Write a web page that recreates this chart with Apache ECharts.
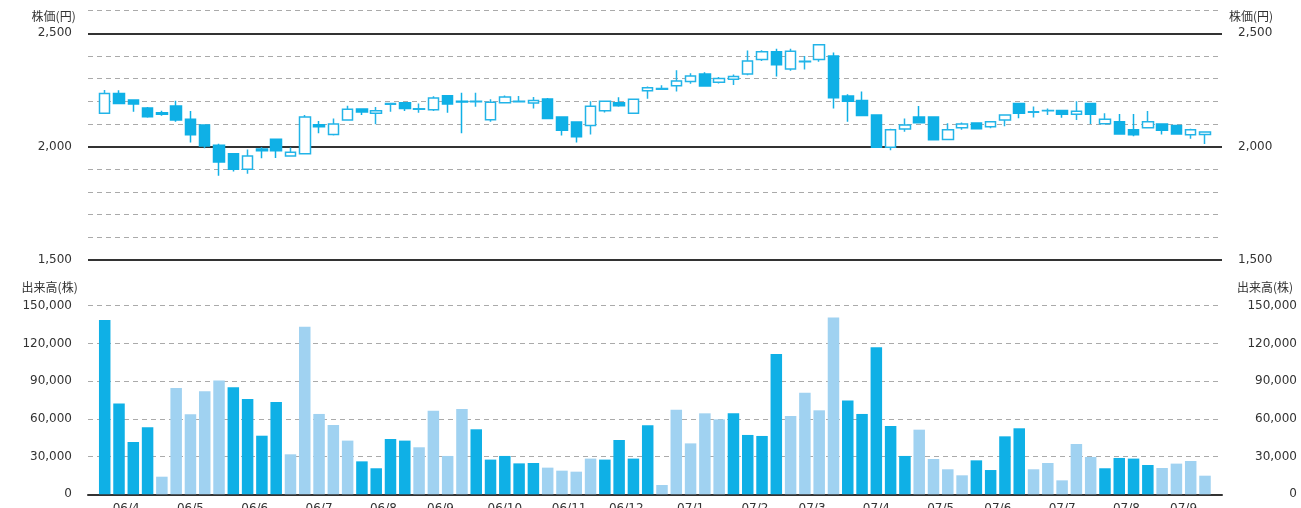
<!DOCTYPE html>
<html>
<head>
    <meta charset="utf-8">
    <title>株価チャート</title>
    <script src="https://cdn.jsdelivr.net/npm/echarts@6/dist/echarts.min.js"></script>
    <style>
        html, body { margin: 0; padding: 0; background: #ffffff; }
        #chart { width: 1301px; height: 508px; }
    </style>
</head>
<body>
<div id="chart"></div>
<script>
    // 月ラベルと各月の週数
    var monthLabels = ['06/4', '06/5', '06/6', '06/7', '06/8', '06/9', '06/10', '06/11', '06/12',
        '07/1', '07/2', '07/3', '07/4', '07/5', '07/6', '07/7', '07/8', '07/9'];
    var weeksPerMonth = [4, 5, 4, 5, 4, 4, 5, 4, 4, 5, 4, 4, 5, 4, 4, 5, 4, 4];

    // 週足 (始値, 終値, 安値, 高値)
    var openPrices = [2147, 2235, 2206, 2171, 2150, 2179, 2121, 2096, 2006, 1969, 1900, 1990, 2033, 1959, 1969, 2097,
        2054, 2118, 2166, 2147, 2187, 2194, 2165, 2163, 2225, 2200, 2198, 2119, 2194, 2198, 2193, 2210, 2131, 2109,
        2093, 2159, 2194, 2147, 2247, 2253, 2269, 2288, 2321, 2284, 2297, 2321, 2385, 2419, 2343, 2375, 2385, 2400,
        2224, 2204, 2140, 1997, 2078, 2131, 2131, 2032, 2084, 2104, 2088, 2118, 2191, 2152, 2158, 2160, 2143, 2191,
        2101, 2110, 2075, 2084, 2100, 2093, 2053, 2054];
    var closePrices = [2235, 2191, 2188, 2132, 2143, 2118, 2053, 2003, 1932, 1900, 1959, 1982, 1982, 1975, 2131, 2088,
        2100, 2165, 2153, 2159, 2191, 2168, 2167, 2215, 2188, 2197, 2201, 2196, 2219, 2200, 2204, 2124, 2072, 2044,
        2178, 2200, 2181, 2209, 2260, 2257, 2290, 2312, 2268, 2301, 2310, 2378, 2419, 2362, 2421, 2377, 2450, 2216,
        2200, 2138, 1998, 2075, 2096, 2106, 2031, 2075, 2100, 2079, 2110, 2140, 2147, 2154, 2160, 2143, 2156, 2143,
        2121, 2056, 2053, 2110, 2072, 2056, 2075, 2065];
    var lowPrices = [2144, 2188, 2154, 2128, 2137, 2110, 2019, 1993, 1872, 1890, 1881, 1949, 1950, 1959, 1968, 2059,
        2049, 2115, 2140, 2099, 2154, 2157, 2150, 2157, 2150, 2059, 2176, 2110, 2191, 2197, 2169, 2122, 2049, 2019,
        2054, 2151, 2176, 2146, 2212, 2253, 2243, 2278, 2266, 2279, 2272, 2315, 2378, 2310, 2335, 2341, 2375, 2169,
        2110, 2138, 1997, 1984, 2066, 2103, 2028, 2029, 2075, 2078, 2081, 2090, 2125, 2129, 2140, 2128, 2118, 2100,
        2100, 2056, 2046, 2084, 2054, 2053, 2035, 2012];
    var highPrices = [2250, 2249, 2206, 2175, 2159, 2203, 2157, 2099, 2013, 1972, 1988, 1997, 2035, 1996, 2140, 2113,
        2124, 2181, 2168, 2175, 2191, 2196, 2191, 2222, 2228, 2238, 2238, 2209, 2226, 2224, 2219, 2215, 2134, 2110,
        2200, 2204, 2218, 2213, 2266, 2271, 2337, 2324, 2328, 2307, 2318, 2424, 2426, 2432, 2432, 2400, 2452, 2416,
        2231, 2244, 2143, 2079, 2124, 2179, 2133, 2103, 2107, 2107, 2112, 2143, 2194, 2177, 2168, 2161, 2200, 2194,
        2147, 2144, 2144, 2157, 2100, 2093, 2079, 2065];

    // 出来高 (株)
    var volumes = [138600, 72300, 41600, 53300, 14000, 84500, 63600, 81900, 90600, 85100, 75800, 46600, 73400, 31800,
        133300, 63900, 55100, 42700, 26200, 20700, 44000, 42700, 37400, 66500, 30500, 67800, 51700, 27600, 30500,
        24600, 24900, 21200, 18800, 18000, 28400, 27600, 43200, 28400, 54900, 7400, 67300, 40500, 64400, 59600,
        64400, 47200, 46400, 111600, 62300, 80800, 66800, 140700, 74700, 63900, 116900, 54300, 30500, 51400, 28100,
        19900, 15100, 27000, 19300, 46100, 52500, 19900, 24900, 11100, 40000, 29700, 20700, 28900, 28400, 23300,
        20900, 24400, 26500, 14800];

    var priceTicks = [1500, 2000, 2500];

    var DARK = '#0fb0e6';
    var LIGHT = '#a0d2f1';
    var TEXT = '#333333';
    var FONT = 'DejaVu Sans';

    // 週ごとの月番号と、月ラベルの位置（その月の週の中央）
    var weekMonth = [];
    var monthCenters = [];
    var start = 0;
    weeksPerMonth.forEach(function (n, m) {
        for (var k = 0; k < n; k++) weekMonth.push(m);
        monthCenters.push(start + (n - 1) / 2);
        start += n;
    });

    var candleData = openPrices.map(function (o, i) {
        return [i, o, closePrices[i], lowPrices[i], highPrices[i]];
    });
    var volumeData = volumes.map(function (v, i) {
        return [i, v];
    });

    function fmt(v) {
        return v.toLocaleString('en-US');
    }

    var xMin = -1.17, xMax = 78.19;

    var chart = echarts.init(document.getElementById('chart'), null, {renderer: 'canvas'});

    var labelStyle = {color: TEXT, fontFamily: FONT, fontSize: 12};
    var nameStyle = {color: TEXT, fontFamily: 'Noto Sans CJK JP', fontSize: 12};

    var option = {
        animation: false,
        backgroundColor: '#ffffff',
        grid: [
            {left: 88, right: 79, top: 10.7, height: 249.3, outerBoundsMode: 'none'},
            {left: 88, right: 79, top: 305.7, height: 188.6, outerBoundsMode: 'none'}
        ],
        xAxis: [
            {
                type: 'value', gridIndex: 0, min: xMin, max: xMax, show: false
            },
            {
                type: 'value', gridIndex: 1, min: xMin, max: xMax,
                splitLine: {show: false},
                axisTick: {show: false},
                axisLine: {show: true, onZero: false, lineStyle: {color: '#333', width: 2}},
                axisLabel: {
                    customValues: monthCenters,
                    margin: 9,
                    color: TEXT, fontFamily: FONT, fontSize: 12,
                    formatter: function (v) {
                        for (var m = 0; m < monthCenters.length; m++) {
                            if (Math.abs(monthCenters[m] - v) < 0.01) return monthLabels[m];
                        }
                        return '';
                    }
                }
            }
        ],
        yAxis: [
            {
                // 株価 左 (破線)
                type: 'value', gridIndex: 0, position: 'left',
                min: 1500, max: 2600, interval: 100,
                name: '株価(円)', nameLocation: 'end', nameGap: -6,
                nameTextStyle: Object.assign({align: 'right', verticalAlign: 'middle', padding: [0, 29, 0, 0]}, nameStyle),
                axisLine: {show: false}, axisTick: {show: false},
                axisLabel: Object.assign({
                    margin: 16,
                    formatter: function (v) { return priceTicks.indexOf(v) >= 0 ? fmt(v) : ''; }
                }, labelStyle),
                splitLine: {show: true, lineStyle: {color: '#aaaaaa', width: 1, type: [5, 4]}}
            },
            {
                // 株価 右 (実線)
                type: 'value', gridIndex: 0, position: 'right',
                min: 1500, max: 2600, interval: 500,
                name: '株価(円)', nameLocation: 'end', nameGap: -6,
                nameTextStyle: Object.assign({align: 'left', verticalAlign: 'middle', padding: [0, 0, 0, 7]}, nameStyle),
                axisLine: {show: false}, axisTick: {show: false},
                axisLabel: Object.assign({
                    margin: 16,
                    formatter: function (v) { return priceTicks.indexOf(v) >= 0 ? fmt(v) : ''; }
                }, labelStyle),
                splitLine: {show: true, showMaxLine: false, lineStyle: {color: '#333333', width: 2}}
            },
            {
                // 出来高 左
                type: 'value', gridIndex: 1, position: 'left',
                min: 0, max: 150000, interval: 30000,
                name: '出来高(株)', nameLocation: 'end', nameGap: 12,
                nameTextStyle: Object.assign({align: 'right', verticalAlign: 'bottom', padding: [0, 27, 0, 0]}, nameStyle),
                axisLine: {show: false}, axisTick: {show: false},
                axisLabel: Object.assign({margin: 16, formatter: fmt}, labelStyle),
                splitLine: {show: true, lineStyle: {color: '#aaaaaa', width: 1, type: [5, 4]}}
            },
            {
                // 出来高 右
                type: 'value', gridIndex: 1, position: 'right',
                min: 0, max: 150000, interval: 30000,
                name: '出来高(株)', nameLocation: 'end', nameGap: 12,
                nameTextStyle: Object.assign({align: 'left', verticalAlign: 'bottom', padding: [0, 0, 0, 15]}, nameStyle),
                axisLine: {show: false}, axisTick: {show: false},
                axisLabel: Object.assign({margin: 75, align: 'right', formatter: fmt}, labelStyle),
                splitLine: {show: false}
            }
        ],
        series: [
            {
                name: '株価',
                type: 'candlestick',
                xAxisIndex: 0,
                yAxisIndex: 0,
                barWidth: 11,
                encode: {x: 0, y: [1, 2, 3, 4]},
                itemStyle: {
                    color: '#ffffff',
                    color0: DARK,
                    borderColor: '#22b4e8',
                    borderColor0: DARK,
                    borderWidth: 1.5
                },
                data: candleData
            },
            {
                name: '出来高',
                type: 'bar',
                xAxisIndex: 1,
                yAxisIndex: 2,
                barWidth: 11.5,
                itemStyle: {
                    color: function (p) {
                        return weekMonth[p.dataIndex] % 2 === 0 ? DARK : LIGHT;
                    }
                },
                data: volumeData
            }
        ]
    };
    chart.setOption(option);
</script>
</body>
</html>
